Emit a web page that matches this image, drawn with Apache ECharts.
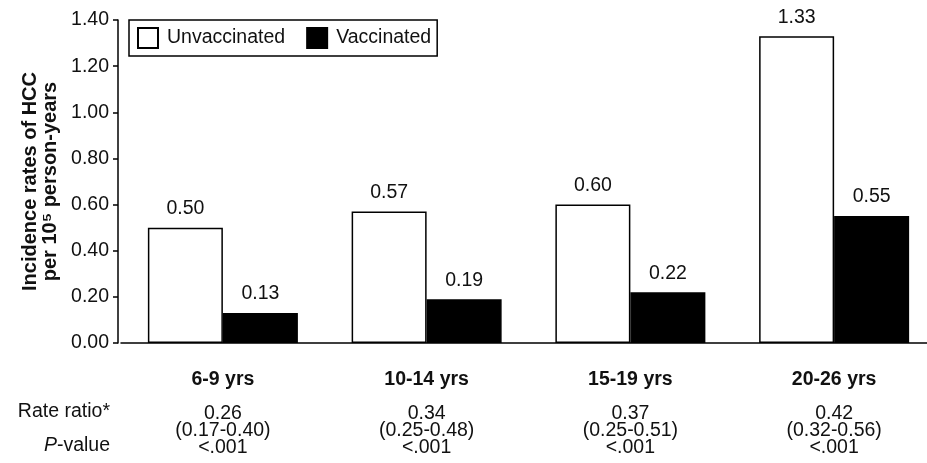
<!DOCTYPE html>
<html><head><meta charset="utf-8">
<script src="https://cdn.jsdelivr.net/npm/echarts@6/dist/echarts.min.js"></script>
<style>html,body{margin:0;padding:0;background:#fff}#c{width:927px;height:463px}</style>
</head><body><div id="c"></div>
<script>
const categories = ['6-9 yrs', '10-14 yrs', '15-19 yrs', '20-26 yrs'];
const unvaccinated = [0.50, 0.57, 0.60, 1.33];
const vaccinated = [0.13, 0.19, 0.22, 0.55];
const rateRatio = ['0.26', '0.34', '0.37', '0.42'];
const rateCI = ['(0.17-0.40)', '(0.25-0.48)', '(0.25-0.51)', '(0.32-0.56)'];
const pValues = ['<.001', '<.001', '<.001', '<.001'];
const yMin = 0, yMax = 1.4, yStep = 0.2;

const FONT = '"Liberation Sans", Arial, Helvetica, sans-serif';
const FS = 19.5;
const chart = echarts.init(document.getElementById('c'), null, {renderer: 'canvas'});
chart.setOption({
  animation: false,
  backgroundColor: '#fff',
  textStyle: {fontFamily: FONT, color: '#111'},
  grid: {left: 121, top: 20, width: 815, bottom: 120, containLabel: false, outerBoundsMode: 'none'},
  legend: {
    left: 129, top: 20,
    icon: 'rect', itemWidth: 20, itemHeight: 20, itemGap: 21,
    padding: [7, 6, 7, 8],
    borderColor: '#000', borderWidth: 1.5,
    textStyle: {fontFamily: FONT, fontSize: FS, color: '#111', padding: [0, 0, 0, 4]},
    data: ['Unvaccinated', 'Vaccinated']
  },
  xAxis: {
    type: 'category', data: categories,
    axisLine: {lineStyle: {color: '#000', width: 1.5}},
    axisTick: {show: false},
    axisLabel: {
      interval: 0, margin: 11,
      formatter: (v, i) => '{cat|' + v + '}\n{v|' + rateRatio[i] + '}\n{v|' + rateCI[i] + '}\n{v|' + pValues[i] + '}',
      rich: {
        cat: {fontFamily: FONT, fontSize: FS, fontWeight: 'bold', color: '#111', lineHeight: 51},
        v: {fontFamily: FONT, fontSize: FS, color: '#111', lineHeight: 17}
      }
    }
  },
  yAxis: {
    type: 'value', min: yMin, max: yMax, interval: yStep, offset: 3,
    name: '{b|Incidence rates of HCC}\n{b|per 10⁵ person-years}',
    nameLocation: 'middle', nameRotate: 90, nameGap: 58,
    nameTextStyle: {rich: {b: {fontFamily: FONT, fontSize: 20, fontWeight: 'bold', color: '#111', lineHeight: 20}}},
    axisLine: {show: true, lineStyle: {color: '#000', width: 1.5}},
    axisTick: {show: true, length: 5, lineStyle: {color: '#000', width: 1.5}},
    splitLine: {show: false},
    axisLabel: {margin: 9, fontFamily: FONT, fontSize: FS, color: '#111', formatter: v => v.toFixed(2)}
  },
  series: [
    {
      name: 'Unvaccinated', type: 'bar', data: unvaccinated, barWidth: 75, barGap: '0%',
      itemStyle: {color: '#fff', borderColor: '#000', borderWidth: 1.5},
      label: {show: true, position: 'top', distance: 9, fontFamily: FONT, fontSize: FS, color: '#111', formatter: p => p.value.toFixed(2)}
    },
    {
      name: 'Vaccinated', type: 'bar', data: vaccinated, barWidth: 75, barGap: '0%',
      itemStyle: {color: '#000', borderColor: '#000', borderWidth: 1.5},
      label: {show: true, position: 'top', distance: 9, fontFamily: FONT, fontSize: FS, color: '#111', formatter: p => p.value.toFixed(2)}
    }
  ],
  graphic: [
    {type: 'text', right: 927 - 110, top: 402, style: {text: 'Rate ratio*', font: FS + 'px ' + FONT, fill: '#111', textAlign: 'right'}},
    {type: 'text', right: 927 - 110, top: 436, style: {text: '{i|P}-value', fill: '#111', textAlign: 'right',
      rich: {i: {fontStyle: 'italic', fontFamily: FONT, fontSize: FS, fill: '#111'}}, font: FS + 'px ' + FONT}}
  ]
});
</script></body></html>
